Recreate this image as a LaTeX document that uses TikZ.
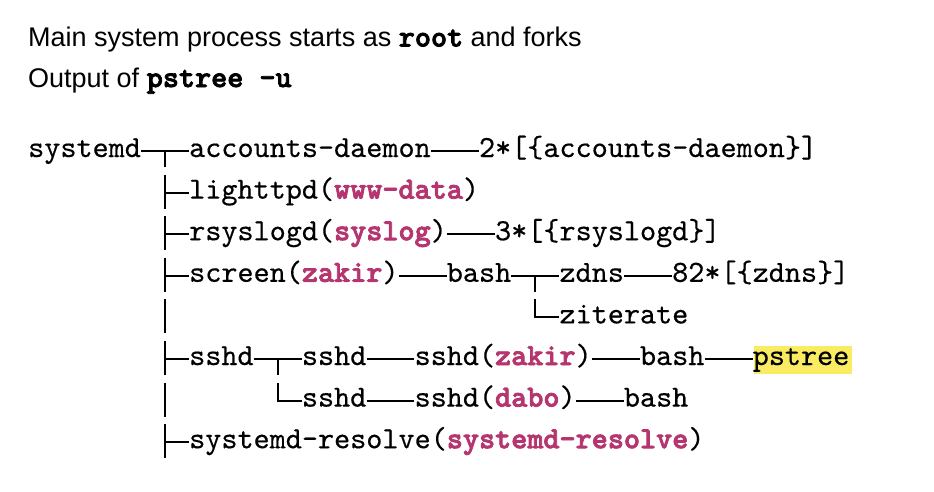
\documentclass[tikz,border=0pt]{standalone}
\usepackage{fontspec}
\setmainfont{Liberation Sans}
\newfontfamily\monof{lmmono10-regular.otf}[BoldFont=lmmonolt10-bold.otf, UprightFeatures={FakeBold=0.4}, BoldFeatures={FakeBold=2.5}]
\usetikzlibrary{backgrounds}
\definecolor{usr}{RGB}{181,54,111}
\definecolor{hl}{RGB}{249,236,98}
\newcommand\usr[1]{\textcolor{usr}{\bfseries #1}}
\begin{document}
\begin{tikzpicture}[x=1pt,y=-1pt,
  proc/.style={anchor=base west, inner sep=0pt, font=\monof\fontsize{30.67}{34}\selectfont},
  hdr/.style={anchor=base west, inner sep=0pt, font=\fontsize{27}{30}\selectfont},
  conn/.style={line width=1.9pt, line join=miter}]
\useasboundingbox (0,0) rectangle (934,491);

% header
\node[hdr] (h1) at (28,46.5) {Main system process starts as {\monof\fontsize{30.67}{34}\selectfont\bfseries root} and forks};
\node[hdr] (h2) at (28,87) {Output of {\monof\fontsize{30.67}{34}\selectfont\bfseries pstree -u}};

% row 1
\node[proc] (sd)  at (28,157) {systemd};
\node[proc] (ad)  at (189,157) {accounts-daemon};
\node[proc] (ad2) at (478.8,157) {2*[\{accounts-daemon\}]};
% row 2
\node[proc] (lh)  at (189,198.6) {lighttpd(\usr{www-data})};
% row 3
\node[proc] (rs)  at (189,240.2) {rsyslogd(\usr{syslog})};
\node[proc] (rs3) at (494.9,240.2) {3*[\{rsyslogd\}]};
% row 4
\node[proc] (sc)  at (189,281.8) {screen(\usr{zakir})};
\node[proc] (b1)  at (446.6,281.8) {bash};
\node[proc] (zd)  at (559.3,281.8) {zdns};
\node[proc] (zd8) at (672,281.8) {82*[\{zdns\}]};
% row 5
\node[proc] (zi)  at (559.3,323.4) {ziterate};
% row 6
\node[proc] (s0)  at (189,365) {sshd};
\node[proc] (s1)  at (301.7,365) {sshd};
\node[proc] (s2)  at (414.4,365) {sshd(\usr{zakir})};
\node[proc] (b2)  at (639.8,365) {bash};
\node[proc] (ps)  at (752.5,365) {pstree};
% row 7
\node[proc] (s3)  at (301.7,406.6) {sshd};
\node[proc] (s4)  at (414.4,406.6) {sshd(\usr{dabo})};
\node[proc] (b3)  at (623.7,406.6) {bash};
% row 8
\node[proc] (sr)  at (189,448.2) {systemd-resolve(\usr{systemd-resolve})};

\begin{scope}[on background layer]
  \fill[hl] ([xshift=1.5pt,yshift=19pt]ps.base west) rectangle ([xshift=2pt,yshift=-8.5pt]ps.base east);
\end{scope}

% trunk junctions
\coordinate (t1) at (164.85,151);
\coordinate (t2) at (164.85,192.6);
\coordinate (t3) at (164.85,234.2);
\coordinate (t4) at (164.85,275.8);
\coordinate (t5) at (164.85,317.4);
\coordinate (t6) at (164.85,359);
\coordinate (t7) at (164.85,400.6);
\coordinate (t8) at (164.85,442.2);
\coordinate (u6) at (277.55,359);
\coordinate (u7) at (277.55,400.6);
\coordinate (v4) at (535.15,275.8);
\coordinate (v5) at (535.15,317.4);

% horizontal connectors
\draw[conn] ([yshift=6pt]sd.base east) -- ([yshift=6pt]ad.base west);
\draw[conn] ([yshift=6pt]ad.base east) -- ([yshift=6pt]ad2.base west);
\draw[conn] (t2) -- ([yshift=6pt]lh.base west);
\draw[conn] (t3) -- ([yshift=6pt]rs.base west);
\draw[conn] ([yshift=6pt]rs.base east) -- ([yshift=6pt]rs3.base west);
\draw[conn] (t4) -- ([yshift=6pt]sc.base west);
\draw[conn] ([yshift=6pt]sc.base east) -- ([yshift=6pt]b1.base west);
\draw[conn] ([yshift=6pt]b1.base east) -- ([yshift=6pt]zd.base west);
\draw[conn] ([yshift=6pt]zd.base east) -- ([yshift=6pt]zd8.base west);
\draw[conn] (t6) -- ([yshift=6pt]s0.base west);
\draw[conn] ([yshift=6pt]s0.base east) -- ([yshift=6pt]s1.base west);
\draw[conn] ([yshift=6pt]s1.base east) -- ([yshift=6pt]s2.base west);
\draw[conn] ([yshift=6pt]s2.base east) -- ([yshift=6pt]b2.base west);
\draw[conn] ([yshift=6pt]b2.base east) -- ([yshift=6pt]ps.base west);
\draw[conn] ([yshift=6pt]s3.base east) -- ([yshift=6pt]s4.base west);
\draw[conn] ([yshift=6pt]s4.base east) -- ([yshift=6pt]b3.base west);
\draw[conn] (t8) -- ([yshift=6pt]sr.base west);

% vertical trunk pieces
\draw[conn] (t1) -- ++(0,16);
\foreach \t in {t2,t3,t4,t5,t6,t7,t8}
  \draw[conn] ([yshift=18pt]\t) -- ([yshift=-16pt]\t);
\draw[conn] (u6) -- ++(0,16);
\draw[conn] ([yshift=6pt]s3.base west) -- (u7) -- ++(0,-18);
\draw[conn] (v4) -- ++(0,16);
\draw[conn] ([yshift=6pt]zi.base west) -- (v5) -- ++(0,-18);
\end{tikzpicture}
\end{document}
